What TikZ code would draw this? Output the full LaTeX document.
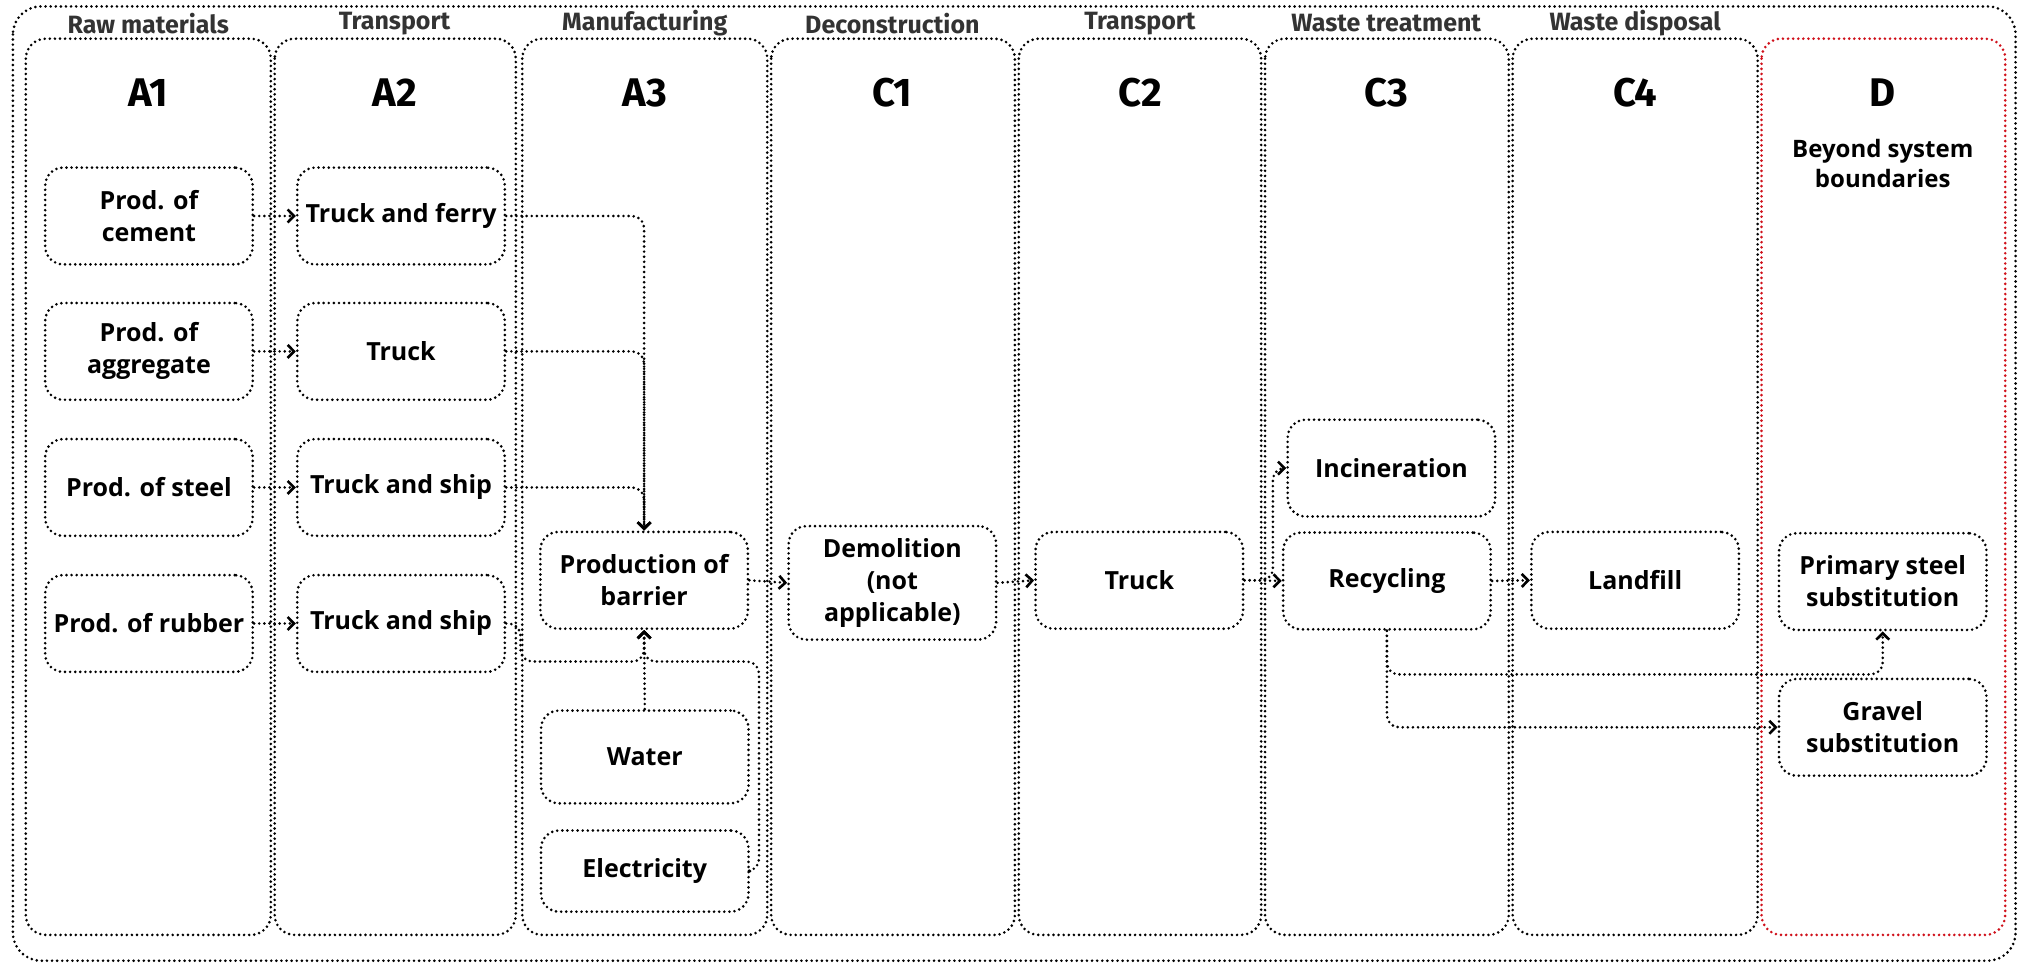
\documentclass[tikz,border=0pt]{standalone}
\usepackage{fontspec}
\setmainfont{Open Sans}
\newfontfamily\hdr{Fira Sans}
\usetikzlibrary{arrows.meta}
\definecolor{hdrgray}{HTML}{333333}
\definecolor{dred}{HTML}{D0111B}
\begin{document}
\begin{tikzpicture}[x=0.645pt,y=-0.645pt,
  dotline/.style={line width=1.45pt, line cap=round, dash pattern=on 0pt off 2.55pt},
  colbox/.style={draw, dotline, rounded corners=10pt},
  box/.style={draw, dotline, rounded corners=9pt, align=center,
    font=\bfseries\fontsize{12.5}{16}\selectfont, minimum width=103.8pt,
    minimum height=48.4pt, inner sep=1pt},
  phase/.style={font=\hdr\bfseries\fontsize{12.5}{14}\selectfont, text=hdrgray},
  ctitle/.style={font=\hdr\bfseries\fontsize{20}{22}\selectfont},
  note/.style={font=\bfseries\fontsize{12}{15}\selectfont, align=center},
  conn/.style={draw, dotline, rounded corners=6pt,
    -{Straight Barb[length=3.2pt,width=6.5pt,line width=1.3pt]}}]
\useasboundingbox (0,0) rectangle (1568,749);
\fill[white] (0,0) rectangle (1568,749);
% outer frame
\draw[colbox, rounded corners=14pt] (10,5) rectangle (1563,745);
% columns
\draw[colbox] (20,30) rectangle (210,725);
\draw[colbox] (213,30) rectangle (400,725);
\draw[colbox] (405,30) rectangle (595,725);
\draw[colbox] (598,30) rectangle (787,725);
\draw[colbox] (790,30) rectangle (978,725);
\draw[colbox] (981,30) rectangle (1170,725);
\draw[colbox] (1173,30) rectangle (1363,725);
\draw[colbox, draw=dred] (1366,30) rectangle (1555,725);
% phase headers
\node[phase] (h1) at (115,18) {Raw materials};
\node[phase] (h2) at (306,18) {Transport};
\node[phase] (h3) at (500,18) {Manufacturing};
\node[phase] (h4) at (692,18) {Deconstruction};
\node[phase] (h5) at (884,18) {Transport};
\node[phase] (h6) at (1075,18) {Waste treatment};
\node[phase] (h7) at (1268,18) {Waste disposal};
% column titles
\node[ctitle] (tA1) at (115,72) {A1};
\node[ctitle] (tA2) at (306,72) {A2};
\node[ctitle] (tA3) at (500,72) {A3};
\node[ctitle] (tC1) at (692,72) {C1};
\node[ctitle] (tC2) at (884,72) {C2};
\node[ctitle] (tC3) at (1075,72) {C3};
\node[ctitle] (tC4) at (1268,72) {C4};
\node[ctitle] (tD) at (1460,72) {D};
\node[note] (bsb) at (1460,127) {Beyond system\\boundaries};
% A1
\node[box] (cem) at (115.5,167.5) {Prod. of\\cement};
\node[box] (agg) at (115.5,272.5) {Prod. of\\aggregate};
\node[box] (stl) at (115.5,378) {Prod. of steel};
\node[box] (rub) at (115.5,483.5) {Prod. of rubber};
% A2
\node[box] (tf) at (311,167.5) {Truck and ferry};
\node[box] (tr) at (311,272.5) {Truck};
\node[box] (ts1) at (311,378) {Truck and ship};
\node[box] (ts2) at (311,483.5) {Truck and ship};
% A3
\node[box] (bar) at (499.5,450) {Production of\\barrier};
\node[box, minimum height=46.4pt] (wat) at (500,587) {Water};
\node[box, minimum height=40.6pt] (ele) at (500,675.5) {Electricity};
% C1..D
\node[box, minimum height=56.8pt] (dem) at (692,452) {Demolition\\(not\\applicable)};
\node[box] (c2t) at (883.5,450) {Truck};
\node[box] (inc) at (1079,363) {Incineration};
\node[box] (rec) at (1075.5,450.5) {Recycling};
\node[box] (lan) at (1268,450) {Landfill};
\node[box] (pss) at (1460,451) {Primary steel\\substitution};
\node[box] (grs) at (1460,564) {Gravel\\substitution};
% connectors A1 -> A2
\draw[conn] (cem.east) -- (tf.west);
\draw[conn] (agg.east) -- (tr.west);
\draw[conn] (stl.east) -- (ts1.west);
\draw[conn] (rub.east) -- (ts2.west);
% A2 -> barrier
\draw[conn] (tf.east) -| (bar.north);
\draw[conn] (tr.east) -| (bar.north);
\draw[conn] (ts1.east) -| (bar.north);
\coordinate (jn) at (499.5,513);
\draw[conn] (ts2.east) -- ++(11,0) |- (jn) -- (bar.south);
\draw[conn] (ele.east) -- ++(7,0) |- (jn) -- (bar.south);
\draw[conn] (wat.north) -- (bar.south);
% downstream
\draw[conn] (bar.east) -- (dem.west);
\draw[conn] (dem.east) -- (c2t.west);
\draw[conn] (c2t.east) -- (rec.west);
\draw[conn] (c2t.east) -- ++(22,0) |- (inc.west);
\draw[conn] (rec.east) -- (lan.west);
\coordinate (jp) at (1460,523);
\draw[conn] (rec.south) |- (jp) -- (pss.south);
\draw[conn] (rec.south) |- (grs.west);
\end{tikzpicture}
\end{document}
